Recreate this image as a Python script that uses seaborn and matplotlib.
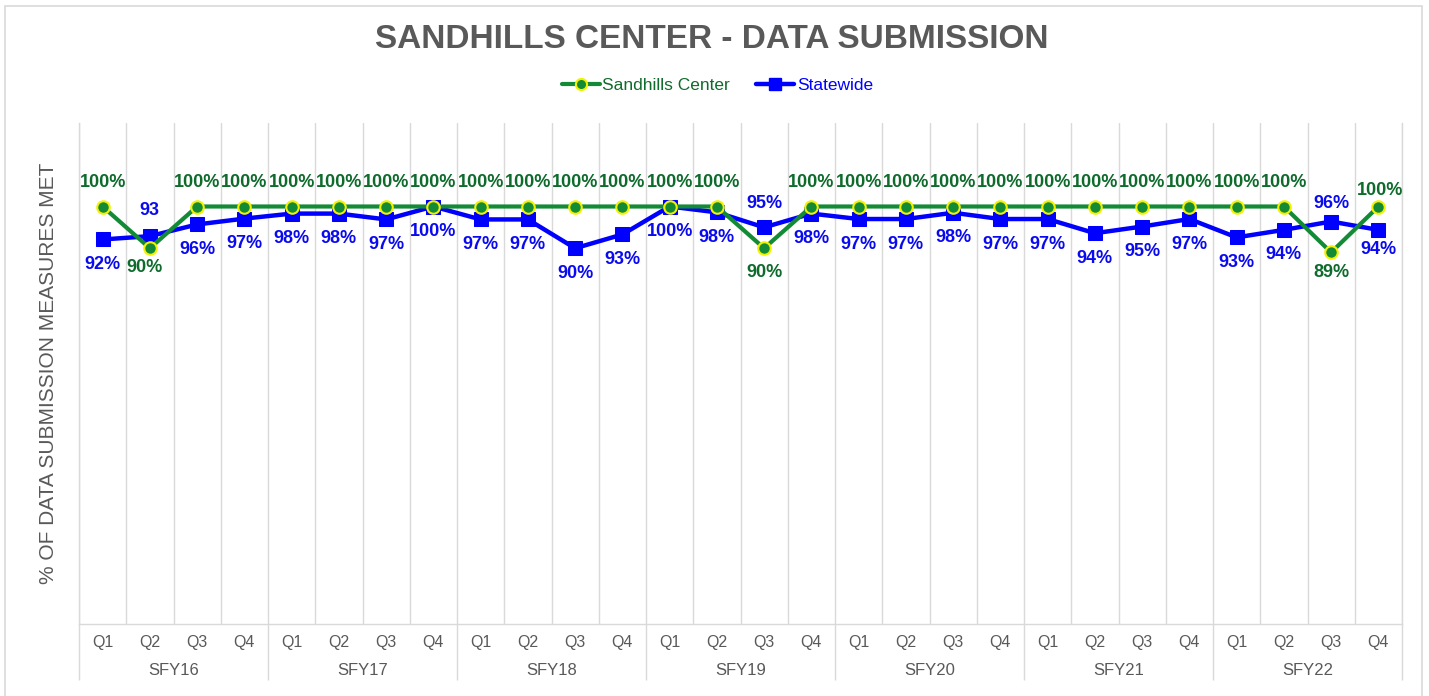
import numpy as np
import pandas as pd
import seaborn as sns
import matplotlib
matplotlib.use("Agg")
import matplotlib.pyplot as plt
from matplotlib.lines import Line2D
from matplotlib.patches import Rectangle

# ---------------- data ----------------
years = ["SFY16", "SFY17", "SFY18", "SFY19", "SFY20", "SFY21", "SFY22"]
quarters = ["Q1", "Q2", "Q3", "Q4"]

sandhills = [1.00, 0.90, 1.00, 1.00,
             1.00, 1.00, 1.00, 1.00,
             1.00, 1.00, 1.00, 1.00,
             1.00, 1.00, 0.90, 1.00,
             1.00, 1.00, 1.00, 1.00,
             1.00, 1.00, 1.00, 1.00,
             1.00, 1.00, 0.89, 1.00]
statewide = [0.921, 0.929, 0.957, 0.971,
             0.983, 0.983, 0.969, 1.000,
             0.969, 0.969, 0.900, 0.933,
             1.000, 0.986, 0.950, 0.983,
             0.970, 0.970, 0.985, 0.970,
             0.970, 0.936, 0.952, 0.970,
             0.926, 0.944, 0.964, 0.944]

sandhills_labels = ["100%", "90%", "100%", "100%",
                    "100%", "100%", "100%", "100%",
                    "100%", "100%", "100%", "100%",
                    "100%", "100%", "90%", "100%",
                    "100%", "100%", "100%", "100%",
                    "100%", "100%", "100%", "100%",
                    "100%", "100%", "89%", "100%"]
statewide_labels = ["92%", "93", "96%", "97%",
                    "98%", "98%", "97%", "100%",
                    "97%", "97%", "90%", "93%",
                    "100%", "98%", "95%", "98%",
                    "97%", "97%", "98%", "97%",
                    "97%", "94%", "95%", "97%",
                    "93%", "94%", "96%", "94%"]

title = "SANDHILLS CENTER - DATA SUBMISSION"
ylabel = "% OF DATA SUBMISSION MEASURES MET"
series_names = ["Sandhills Center", "Statewide"]

# ---------------- style ----------------
sns.set_theme(style="white")
plt.rcParams["font.family"] = ["Liberation Sans", "DejaVu Sans"]

GREEN = "#138A36"
GREEN_TXT = "#0E6B2C"
YELLOW = "#F2F200"
BLUE = "#0000FF"
BLUE_TXT = "#0A0AF0"
GRAY = "#595959"
GRID = "#D9D9D9"

W, H = 1429, 696
fig = plt.figure(figsize=(W / 100, H / 100), dpi=100)
ax = fig.add_axes([79 / W, 1 - 624 / H, (1402 - 79) / W, (624 - 123) / H])

n = len(sandhills)
df = pd.DataFrame({"x": np.arange(n),
                   series_names[0]: sandhills,
                   series_names[1]: statewide})

sns.lineplot(data=df, x="x", y=series_names[1], ax=ax, color=BLUE, lw=3.2,
             marker="s", markersize=10, markerfacecolor=BLUE,
             markeredgecolor=BLUE, legend=False, zorder=3)
sns.lineplot(data=df, x="x", y=series_names[0], ax=ax, color=GREEN, lw=3,
             marker="o", markersize=9, markerfacecolor=GREEN,
             markeredgecolor=YELLOW, markeredgewidth=1.5, legend=False,
             zorder=4)

ax.set_xlim(-0.5, n - 0.5)
ax.set_ylim(0, 1.2)
ax.set_yticks([])
ax.set_xticks(np.arange(n))
ax.set_xticklabels(quarters * len(years))
ax.tick_params(axis="x", which="both", length=0, pad=8, labelsize=11.5,
               labelcolor=GRAY)
ax.set_xticks(np.arange(-0.5, n, 1), minor=True)
ax.grid(False)
ax.grid(which="minor", axis="x", color=GRID, lw=1)
ax.set_xlabel("")
ax.set_ylabel(ylabel, fontsize=15, color=GRAY)
ax.yaxis.set_label_coords(-0.0234, 0.5)
ax.yaxis.label.set_verticalalignment("center")

ax.spines["top"].set_visible(False)
for s in ["left", "right", "bottom"]:
    ax.spines[s].set_color(GRID)
    ax.spines[s].set_linewidth(1)

# year group separators and labels
xt = ax.get_xaxis_transform()
ax.vlines(np.arange(-0.5, n, 4), -0.112, 0, transform=xt, colors=GRID,
          lw=1, clip_on=False)
for i, yr in enumerate(years):
    ax.text(i * 4 + 1.5, -0.092, yr, transform=xt, ha="center", va="center",
            fontsize=12, color=GRAY)

# data labels (offsets in pixels -> points)
px = 72 / 100
g_off = [(0, 24)] * n
g_off[1] = (-5, -19)
g_off[14] = (0, -24)
g_off[26] = (0, -20)
g_off[27] = (2, 16)
b_off = [(0, -25)] * n
b_off[1] = (0, 26)
b_off[14] = (0, 24)
b_off[26] = (0, 18)
b_off[27] = (0, -20)

for i in range(n):
    ax.annotate(sandhills_labels[i], (i, sandhills[i]),
                xytext=(g_off[i][0] * px, g_off[i][1] * px),
                textcoords="offset points", ha="center", va="center",
                fontsize=13, fontweight="bold", color=GREEN_TXT, zorder=6)
    ax.annotate(statewide_labels[i], (i, statewide[i]),
                xytext=(b_off[i][0] * px, b_off[i][1] * px),
                textcoords="offset points", ha="center", va="center",
                fontsize=13, fontweight="bold", color=BLUE_TXT, zorder=6)

# legend
handles = [
    Line2D([], [], color=GREEN, lw=3, marker="o", markersize=8,
           markerfacecolor=GREEN, markeredgecolor=YELLOW, markeredgewidth=1.5),
    Line2D([], [], color=BLUE, lw=3.2, marker="s", markersize=9,
           markerfacecolor=BLUE, markeredgecolor=BLUE),
]
leg = fig.legend(handles, series_names, loc="center",
                 bbox_to_anchor=(0.502, 1 - 85 / H), ncol=2, frameon=False,
                 fontsize=12.5, handlelength=2.2, handletextpad=0.15,
                 columnspacing=1.5)
for t, c in zip(leg.get_texts(), [GREEN_TXT, BLUE]):
    t.set_color(c)

# title
fig.text(0.498, 1 - 40 / H, title, ha="center", va="center", fontsize=24,
         fontweight="bold", color=GRAY)

# outer border
fig.patches.append(Rectangle((5 / W, -0.02), (1422 - 5) / W,
                             (1 - 6 / H) + 0.02, transform=fig.transFigure,
                             fill=False, ec=GRID, lw=1.2))

fig.savefig("out.png", dpi=100)
